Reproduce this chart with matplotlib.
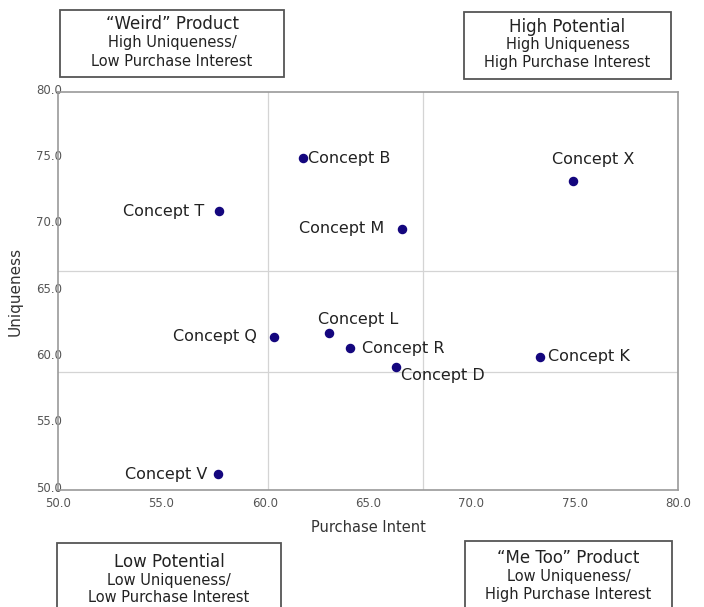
import matplotlib
matplotlib.use('Agg')
import matplotlib.pyplot as plt
import matplotlib.transforms as mtransforms
from matplotlib.patches import Rectangle

# concept positions
concepts = ['Concept B', 'Concept X', 'Concept T', 'Concept M', 'Concept Q',
            'Concept L', 'Concept R', 'Concept D', 'Concept K', 'Concept V']
purchase_intent = [61.85, 74.9, 57.8, 66.65, 60.45, 63.1, 64.15, 66.35, 73.3, 57.75]
uniqueness = [75.0, 73.3, 71.0, 69.7, 61.55, 61.85, 60.7, 59.3, 60.05, 51.2]

# where each label sits relative to its point (dx, dy in points, ha, va)
label_pos = {
    'Concept B': (4, 0, 'left', 'center'),
    'Concept X': (-15, 10, 'left', 'bottom'),
    'Concept T': (-11, 0, 'right', 'center'),
    'Concept M': (-13, 0, 'right', 'center'),
    'Concept Q': (-12, 0, 'right', 'center'),
    'Concept L': (-8, 4, 'left', 'bottom'),
    'Concept R': (8, 0, 'left', 'center'),
    'Concept D': (4, -1, 'left', 'top'),
    'Concept K': (6, 0, 'left', 'center'),
    'Concept V': (-8, 0, 'right', 'center'),
}

# quadrant divider lines
x_dividers = [60.15, 67.65]
y_dividers = [66.5, 58.9]

x_ticks = [50, 55, 60, 65, 70, 75, 80]
y_ticks = [50, 55, 60, 65, 70, 75, 80]

quadrants = [
    # (left, top, right, bottom) in pixels, lines, line centres
    ((60, 10, 284, 77), ['\u201cWeird\u201d Product', 'High Uniqueness/', 'Low Purchase Interest'], (24, 43, 61)),
    ((464, 12, 671, 79), ['High Potential', 'High Uniqueness', 'High Purchase Interest'], (27, 45, 63)),
    ((57, 543, 281, 620), ['Low Potential', 'Low Uniqueness/', 'Low Purchase Interest'], (562, 580, 598)),
    ((465, 541, 672, 620), ['\u201cMe Too\u201d Product', 'Low Uniqueness/', 'High Purchase Interest'], (558, 577, 595)),
]

W, H = 704, 607
fig = plt.figure(figsize=(W / 100, H / 100), dpi=100)
ax = fig.add_axes([58 / W, 1 - 490 / H, 620 / W, 398 / H])

for xv in x_dividers:
    ax.axvline(xv, color='#d4d4d4', lw=0.9, zorder=1)
for yv in y_dividers:
    ax.axhline(yv, color='#d4d4d4', lw=0.9, zorder=1)

ax.scatter(purchase_intent, uniqueness, s=34, color='#14067e', zorder=3)

for name, xv, yv in zip(concepts, purchase_intent, uniqueness):
    dx, dy, ha, va = label_pos[name]
    ax.annotate(name, (xv, yv), xytext=(dx, dy), textcoords='offset points',
                ha=ha, va=va, fontsize=11.5, color='#222222')

ax.set_xlim(50, 80)
ax.set_ylim(50, 80)
ax.set_xticks(x_ticks)
ax.set_yticks(y_ticks)
ax.set_xticklabels([f'{v:.1f}' for v in x_ticks])
ax.set_yticklabels([f'{v:.1f}' for v in y_ticks])
ax.tick_params(axis='both', length=0, labelsize=8.5, labelcolor='#555555')
ax.tick_params(axis='y', pad=-3)
ax.tick_params(axis='x', pad=5)
# y tick labels sit slightly above their value
shift = mtransforms.ScaledTranslation(0, 2.5 / 72, fig.dpi_scale_trans)
for lab in ax.get_yticklabels():
    lab.set_transform(lab.get_transform() + shift)
for sp in ax.spines.values():
    sp.set_color('#9a9a9a')
    sp.set_linewidth(1.2)

ax.set_xlabel('Purchase Intent', fontsize=10.5, color='#333333', labelpad=7)
ax.set_ylabel('Uniqueness', fontsize=11, color='#333333', labelpad=10)

for (l, t, r, b), lines, ys in quadrants:
    fig.patches.append(Rectangle((l / W, 1 - b / H), (r - l) / W, (b - t) / H,
                                 transform=fig.transFigure, fill=False,
                                 edgecolor='#555555', lw=1.3))
    cx = (l + r) / 2 / W
    for i, (txt, yy) in enumerate(zip(lines, ys)):
        fig.text(cx, 1 - yy / H, txt, ha='center', va='center',
                 fontsize=12 if i == 0 else 10.5, color='#222222')

fig.savefig('out.png', dpi=100)
